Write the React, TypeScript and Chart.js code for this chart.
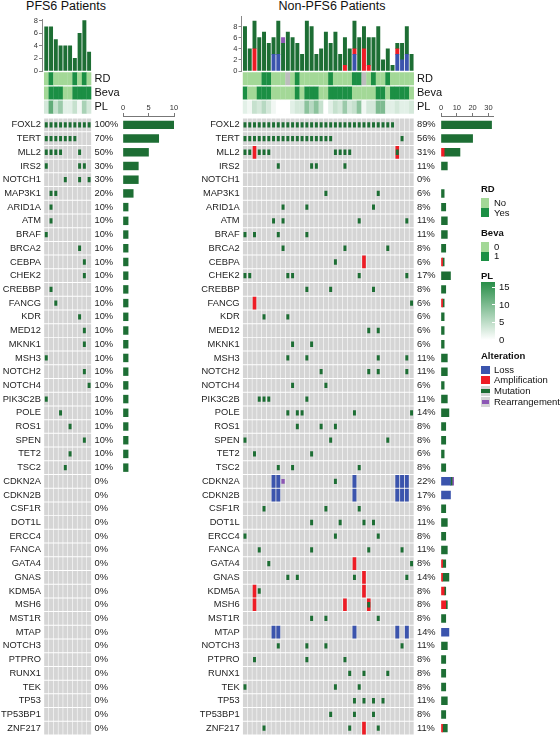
import React, { useEffect, useRef } from 'react';
import { Chart, registerables } from 'chart.js';

Chart.register(...registerables);

const FONT = "'Liberation Sans', Arial, Helvetica, sans-serif";
Chart.defaults.font.family = FONT;
Chart.defaults.color = '#222';

// ---------------- DATA ----------------
const GENES = [
  'FOXL2', 'TERT', 'MLL2', 'IRS2', 'NOTCH1', 'MAP3K1', 'ARID1A', 'ATM', 'BRAF', 'BRCA2',
  'CEBPA', 'CHEK2', 'CREBBP', 'FANCG', 'KDR', 'MED12', 'MKNK1', 'MSH3', 'NOTCH2', 'NOTCH4',
  'PIK3C2B', 'POLE', 'ROS1', 'SPEN', 'TET2', 'TSC2', 'CDKN2A', 'CDKN2B', 'CSF1R', 'DOT1L',
  'ERCC4', 'FANCA', 'GATA4', 'GNAS', 'KDM5A', 'MSH6', 'MST1R', 'MTAP', 'NOTCH3', 'PTPRO',
  'RUNX1', 'TEK', 'TP53', 'TP53BP1', 'ZNF217',
];
const TRACKS = ['RD', 'Beva', 'PL'];

const PFS6_N = 10;
const NON_N = 36;

// mutated sample indices per gene (same order as GENES)
const PFS6_MUTATION: number[][] = [
  [0, 1, 2, 3, 4, 5, 6, 7, 8, 9], [0, 1, 2, 3, 4, 5, 6], [0, 1, 2, 3, 7], [0, 7, 8], [4, 7, 9],
  [1, 2], [1], [1], [0], [7], [8], [8], [1], [2], [7], [8], [8], [0], [8], [9], [0], [3], [5], [8], [5], [4],
  [], [], [], [], [], [], [], [], [], [], [], [], [], [], [], [], [], [], [],
];

const NON_MUTATION: number[][] = [
  [0, 1, 2, 3, 4, 5, 6, 7, 8, 9, 10, 11, 12, 13, 14, 15, 16, 17, 18, 19, 20, 21, 22, 23, 24, 25, 26, 27, 28, 29, 30, 31],
  [0, 1, 2, 3, 4, 5, 6, 7, 8, 9, 10, 11, 12, 13, 14, 15, 16, 17, 18, 33],
  [0, 1, 3, 4, 5, 19, 20, 21, 22, 32],
  [7, 14, 15, 21], [], [17, 28], [8, 13, 27], [6, 8, 24, 34], [0, 2, 7, 13], [8, 21, 30],
  [19], [0, 1, 9, 10, 24, 34], [13, 18, 27], [35], [4, 9], [26, 28], [10, 14], [9, 13, 28, 34],
  [16, 26, 28, 34], [10, 17], [3, 4, 5, 13], [9, 11, 12, 23, 35], [11, 16, 19], [0, 18, 30], [2, 14],
  [7, 10, 24], [19], [], [4, 17, 24], [14, 20, 25, 27], [0, 19, 28], [3, 14, 26, 33], [5, 35],
  [9, 11, 23, 34], [3], [26], [14, 17, 28], [], [7, 13, 17, 33], [2, 13, 21], [22, 25, 30],
  [0, 19, 24], [23, 25, 27, 29], [18, 23, 27], [4, 22, 28],
];
const NON_AMPLIFICATION: Record<string, number[]> = {
  MLL2: [2, 32], CEBPA: [25], FANCG: [2], GATA4: [23], GNAS: [25], KDM5A: [2, 25], MSH6: [2, 21, 26], ZNF217: [25],
};
const NON_LOSS: Record<string, number[]> = {
  CDKN2A: [6, 7, 23, 32, 33, 34], CDKN2B: [6, 7, 23, 32, 33, 34], MTAP: [6, 7, 23, 32, 34],
};
const NON_REARRANGEMENT: Record<string, number[]> = { CDKN2A: [8] };

// annotation tracks (RD: 0 = No, 1 = Yes, null = NA; Beva 0/1; PL 0-15)
const PFS6_RD: (number | null)[] = [0, 1, 0, 0, 0, 0, 1, 0, 1, 0];
const PFS6_BEVA = [0, 1, 1, 1, 0, 0, 1, 1, 1, 1];
const PFS6_PL = [3, 11, 4, 7, 2, 2, 4, 1, 6, 3];
const NON_RD: (number | null)[] = [0, 0, 0, 0, 1, 1, 0, 0, 0, null, 0, 1, 0, 0, 0, 0, 0, 0, 1, 0, 0, 0, 0, 1, 1, null, 0, 1, 0, 0, 1, 0, 0, 0, 0, 0];
const NON_BEVA = [1, 0, 0, 1, 1, 1, 0, 0, 0, 0, 0, 1, 0, 1, 1, 1, 0, 0, 1, 1, 1, 1, 1, 0, 0, 0, 0, 0, 1, 1, 0, 1, 1, 1, 1, 0];
const NON_PL = [2, 1, 4, 3, 5, 3, 1, 0, 0, 0, 2, 3, 3, 8, 5, 8, 4, 0, 2, 4, 3, 7, 3, 4, 8, 1, 3, 3, 9, 9, 2, 2, 3, 2, 2, 3];

const TOP_TICKS_STEP = 2;
const PFS6_BAR_TICK_STEP = 5;
const NON_BAR_TICK_STEP = 10;
const PL_LEGEND_TICKS = [15, 10, 5, 0];

// ---------------- STYLE ----------------
const GREEN = '#1d6e34';
const RED = '#ee1c25';
const BLUE = '#3b54ad';
const PURPLE = '#8c57b4';
const GRAY = '#d5d5d5';
const LIGHT = '#a3d897';
const DARK = '#1b8f44';
const NA_COLOR = '#bdbdbd';
const PL_HIGH = [40, 142, 72];

const CELL_W = 4.76;
const ROW_H = 13.71;
const GRID_TOP = 118;
const BAR_AXIS_Y = 116;

type Cohort = {
  n: number; mut: number[][]; amp: number[][]; loss: number[][]; rearr: number[][];
  rd: (number | null)[]; beva: number[]; pl: number[];
};
const toRows = (rec: Record<string, number[]>) => GENES.map((g) => rec[g] ?? []);
const PFS6: Cohort = {
  n: PFS6_N, mut: PFS6_MUTATION, amp: toRows({}), loss: toRows({}), rearr: toRows({}),
  rd: PFS6_RD, beva: PFS6_BEVA, pl: PFS6_PL,
};
const NON: Cohort = {
  n: NON_N, mut: NON_MUTATION, amp: toRows(NON_AMPLIFICATION), loss: toRows(NON_LOSS), rearr: toRows(NON_REARRANGEMENT),
  rd: NON_RD, beva: NON_BEVA, pl: NON_PL,
};

const binColor = (v: number | null) => (v === null ? NA_COLOR : v ? DARK : LIGHT);
const plColor = (v: number) => {
  const t = Math.max(0, Math.min(1, v / 15));
  const c = PL_HIGH.map((h) => Math.round(255 + (h - 255) * t));
  return `rgb(${c[0]},${c[1]},${c[2]})`;
};

const noPad = (s: any) => { s.paddingTop = 0; s.paddingBottom = 0; s.paddingLeft = 0; s.paddingRight = 0; };

function base(padding: any) {
  return {
    animation: false as const,
    responsive: false,
    maintainAspectRatio: false,
    devicePixelRatio: 1,
    events: [] as any[],
    layout: { autoPadding: false, padding },
    plugins: { legend: { display: false }, tooltip: { enabled: false }, title: { display: false } },
  };
}

function hiddenLinear(min: number, max: number, extra: any = {}) {
  return { type: 'linear', display: false, offset: false, min, max, ticks: { includeBounds: false }, afterFit: noPad, ...extra };
}

function perSample(rows: number[][], n: number) {
  const a = new Array(n).fill(0);
  rows.forEach((r) => r.forEach((s) => { a[s] += 1; }));
  return a;
}

function topBarConfig(c: Cohort, canvasLeft: number, canvasW: number, axisX: number, gridLeft: number, yMax: number, padTop: number): any {
  const n = c.n;
  const ds = (label: string, rows: number[][], color: string) => ({
    label,
    data: perSample(rows, n).map((v, i) => ({ x: i, y: v || null })),
    backgroundColor: color,
    maxBarThickness: 3.3,
  });
  const chartRight = gridLeft + n * CELL_W;
  return {
    type: 'bar',
    data: { datasets: [ds('Loss', c.loss, BLUE), ds('Amplification', c.amp, RED), ds('Mutation', c.mut, GREEN), ds('Rearrangement', c.rearr, PURPLE)] },
    options: {
      ...base({ left: 0, right: canvasLeft + canvasW - chartRight, top: padTop, bottom: 5 }),
      datasets: { bar: { barPercentage: 1, categoryPercentage: 1, borderWidth: 0 } },
      scales: {
        x: hiddenLinear(-0.5 - (gridLeft - axisX) / CELL_W, n - 0.5, { stacked: true }),
        y: {
          type: 'linear', stacked: true, min: 0, max: yMax, position: 'left',
          afterFit: (s: any) => { s.width = axisX - canvasLeft; noPad(s); },
          ticks: { stepSize: TOP_TICKS_STEP, includeBounds: false, font: { size: 7.5 }, color: '#333', padding: 1 },
          grid: { drawOnChartArea: false, tickLength: 3, color: '#888' },
          border: { display: true, color: '#888' },
        },
      },
    },
  };
}

function trackConfig(c: Cohort, canvasLeft: number, canvasW: number, gridLeft: number): any {
  const n = c.n;
  const colors = [c.rd.map(binColor), c.beva.map(binColor), c.pl.map(plColor)];
  return {
    type: 'bar',
    data: {
      datasets: colors.map((cols, r) => ({
        label: TRACKS[r],
        data: cols.map((_, s) => ({ x: s, y: [r - 0.46, r + 0.46] })),
        backgroundColor: cols,
      })),
    },
    options: {
      ...base({ left: gridLeft - canvasLeft, right: 0, top: 0.7, bottom: 0.8 }),
      datasets: { bar: { grouped: false, barPercentage: 1.05, categoryPercentage: 1, borderWidth: 0 } },
      scales: {
        x: hiddenLinear(-0.5, n - 0.5),
        y: hiddenLinear(-0.5, TRACKS.length - 0.5, { reverse: true }),
        yLab: {
          type: 'category', axis: 'y', labels: TRACKS, position: 'right', offset: true,
          afterFit: (s: any) => { s.width = canvasW - (gridLeft - canvasLeft) - n * CELL_W; noPad(s); },
          grid: { display: false, drawTicks: false }, border: { display: false },
          ticks: { autoSkip: false, font: { size: 11 }, color: '#111', padding: 3 },
        },
      },
    },
  };
}

function gridConfig(c: Cohort, canvasLeft: number, canvasW: number, gridLeft: number): any {
  const n = c.n;
  const cells = (rows: number[][], half: number) =>
    rows.flatMap((samples, k) => samples.map((s) => ({ x: s, y: [k - half, k + half] })));
  const bg = GENES.flatMap((_, k) => Array.from({ length: n }, (_, s) => ({ x: s, y: [k - 0.44, k + 0.44] })));
  const pct = GENES.map((_, k) => {
    const set = new Set([...c.mut[k], ...c.amp[k], ...c.loss[k], ...c.rearr[k]]);
    return `${Math.round((set.size / n) * 100)}%`;
  });
  const leftW = gridLeft - canvasLeft;
  return {
    type: 'bar',
    data: {
      datasets: [
        { label: 'Mutation', data: cells(c.mut, 0.17), backgroundColor: GREEN, maxBarThickness: 2.3 },
        { label: 'Rearrangement', data: cells(c.rearr, 0.15), backgroundColor: PURPLE, maxBarThickness: 2.7 },
        { label: 'Amplification', data: cells(c.amp, 0.44), backgroundColor: RED, maxBarThickness: 3.0 },
        { label: 'Loss', data: cells(c.loss, 0.44), backgroundColor: BLUE, maxBarThickness: 3.3 },
        { label: 'none', data: bg, backgroundColor: GRAY, maxBarThickness: 3.55 },
      ],
    },
    options: {
      ...base({ left: 0, right: 0, top: 0, bottom: 0 }),
      datasets: { bar: { grouped: false, barPercentage: 1, categoryPercentage: 1, borderWidth: 0 } },
      scales: {
        x: hiddenLinear(-0.5, n - 0.5),
        y: hiddenLinear(-0.5, GENES.length - 0.5, { reverse: true }),
        yGenes: {
          type: 'category', axis: 'y', labels: GENES, position: 'left', offset: true,
          afterFit: (s: any) => { s.width = leftW; noPad(s); },
          grid: { display: false, drawTicks: false }, border: { display: false },
          ticks: { autoSkip: false, font: { size: 9.3 }, color: '#222', padding: 3 },
        },
        yPct: {
          type: 'category', axis: 'y', labels: pct, position: 'right', offset: true,
          afterFit: (s: any) => { s.width = canvasW - leftW - n * CELL_W; noPad(s); },
          grid: { display: false, drawTicks: false }, border: { display: false },
          ticks: { autoSkip: false, font: { size: 9.3 }, color: '#222', padding: 3 },
        },
      },
    },
  };
}

function geneBarConfig(c: Cohort, canvasLeft: number, canvasTop: number, canvasW: number, zeroX: number, unitPx: number, xMax: number, step: number): any {
  const ds = (label: string, rows: number[][], color: string) => ({
    label,
    data: rows.map((r, k) => ({ x: r.length || null, y: k })),
    backgroundColor: color,
    maxBarThickness: 7.8,
  });
  return {
    type: 'bar',
    data: { datasets: [ds('Loss', c.loss, BLUE), ds('Amplification', c.amp, RED), ds('Mutation', c.mut, GREEN), ds('Rearrangement', c.rearr, PURPLE)] },
    options: {
      ...base({ left: zeroX - canvasLeft, right: canvasLeft + canvasW - (zeroX + xMax * unitPx), top: 0, bottom: 0 }),
      indexAxis: 'y',
      datasets: { bar: { barPercentage: 1, categoryPercentage: 1, borderWidth: 0 } },
      scales: {
        x: {
          type: 'linear', position: 'top', stacked: true, min: 0, max: xMax, offset: false,
          afterFit: (s: any) => { s.height = BAR_AXIS_Y - canvasTop; noPad(s); },
          ticks: { stepSize: step, includeBounds: false, font: { size: 7.5 }, color: '#333', padding: 0.5, maxRotation: 0 },
          grid: { drawOnChartArea: false, tickLength: 3, color: '#777' },
          border: { display: true, color: '#777' },
        },
        y: hiddenLinear(-0.5 - (GRID_TOP - BAR_AXIS_Y) / ROW_H, GENES.length - 0.5, { reverse: true, stacked: true }),
      },
    },
  };
}

function ChartCanvas({ left, top, width, height, build }: { left: number; top: number; width: number; height: number; build: () => any }) {
  const ref = useRef<HTMLCanvasElement>(null);
  useEffect(() => {
    const chart = new Chart(ref.current as HTMLCanvasElement, build());
    return () => chart.destroy();
  }, []);
  return <canvas ref={ref} width={width} height={height} style={{ position: 'absolute', left, top, width, height }} />;
}

const txt = (left: number, cy: number, text: string, bold = false, size = 9.5) => (
  <div style={{ position: 'absolute', left, top: cy - 6, lineHeight: '12px', height: 12, fontSize: size, fontWeight: bold ? 700 : 400, whiteSpace: 'nowrap', color: '#111' }}>{text}</div>
);
const rect = (left: number, top: number, w: number, h: number, color: string) => (
  <div style={{ position: 'absolute', left, top, width: w, height: h, background: color }} />
);

function Legend() {
  const lx = 481;
  const tx = 494;
  const barTop = 282;
  const barBottom = 340;
  const plY = (v: number) => 339.5 - (v / 15) * 52.5;
  return (
    <>
      {txt(lx, 189, 'RD', true)}
      {rect(lx, 198, 8, 9.5, LIGHT)}
      {rect(lx, 207.5, 8, 9.5, DARK)}
      {txt(tx, 203, 'No')}
      {txt(tx, 212.5, 'Yes')}
      {txt(lx, 233, 'Beva', true)}
      {rect(lx, 242, 8, 9.5, LIGHT)}
      {rect(lx, 251.5, 8, 9.5, DARK)}
      {txt(tx, 246.5, '0')}
      {txt(tx, 256, '1')}
      {txt(lx, 276, 'PL', true)}
      <div style={{ position: 'absolute', left: lx, top: barTop, width: 14, height: barBottom - barTop, background: `linear-gradient(to bottom, ${plColor(15)}, ${plColor(7.5)}, #ffffff)` }} />
      {PL_LEGEND_TICKS.map((v) => (
        <React.Fragment key={v}>
          {rect(lx + 11, plY(v) - 0.5, 3, 1, '#ffffff')}
          {txt(lx + 18, plY(v), String(v))}
        </React.Fragment>
      ))}
      {txt(lx, 356, 'Alteration', true)}
      {rect(lx, 366, 9, 8, BLUE)}
      {txt(tx, 370, 'Loss')}
      {rect(lx, 376, 9, 8, RED)}
      {txt(tx, 380, 'Amplification')}
      {rect(lx, 386, 9, 10, GRAY)}
      {rect(lx, 389, 9, 4, GREEN)}
      {txt(tx, 391, 'Mutation')}
      {rect(lx, 397, 9, 10, GRAY)}
      {rect(lx + 1, 400, 7, 4, PURPLE)}
      {txt(tx, 402, 'Rearrangement')}
    </>
  );
}

export default function App() {
  const L_GRID = 43.9;
  const R_GRID = 242.6;
  return (
    <div style={{ position: 'fixed', left: 0, top: 0, width: 560, height: 735, background: '#fff', overflow: 'hidden', fontFamily: FONT }}>
      <div style={{ position: 'absolute', left: 66, top: -1, transform: 'translateX(-50%)', fontSize: 12.5, lineHeight: '14px', whiteSpace: 'nowrap', color: '#111' }}>PFS6 Patients</div>
      <div style={{ position: 'absolute', left: 332, top: -1, transform: 'translateX(-50%)', fontSize: 12.5, lineHeight: '14px', whiteSpace: 'nowrap', color: '#111' }}>Non-PFS6 Patients</div>

      <ChartCanvas left={20} top={14} width={72} height={62} build={() => topBarConfig(PFS6, 20, 72, 42, L_GRID, 8.2, 5.4)} />
      <ChartCanvas left={220} top={12} width={195} height={64} build={() => topBarConfig(NON, 220, 195, 241.5, R_GRID, 9.75, 4.8)} />

      <ChartCanvas left={40} top={71} width={82} height={44} build={() => trackConfig(PFS6, 40, 82, L_GRID)} />
      <ChartCanvas left={239} top={71} width={212} height={44} build={() => trackConfig(NON, 239, 212, R_GRID)} />

      <ChartCanvas left={118} top={100} width={64} height={635} build={() => geneBarConfig(PFS6, 118, 100, 64, 123, 5.1, 10, PFS6_BAR_TICK_STEP)} />
      <ChartCanvas left={436} top={100} width={66} height={635} build={() => geneBarConfig(NON, 436, 100, 66, 441, 1.58, 33, NON_BAR_TICK_STEP)} />

      <ChartCanvas left={0} top={GRID_TOP} width={124} height={617} build={() => gridConfig(PFS6, 0, 124, L_GRID)} />
      <ChartCanvas left={190} top={GRID_TOP} width={262} height={617} build={() => gridConfig(NON, 190, 262, R_GRID)} />

      <Legend />
    </div>
  );
}
